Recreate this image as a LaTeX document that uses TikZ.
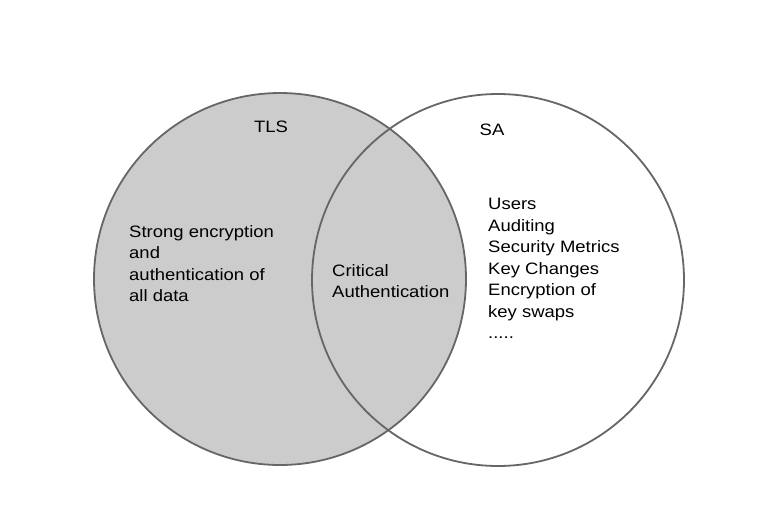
\documentclass[tikz,border=0pt]{standalone}
\usepackage{fontspec}
\setmainfont{Liberation Sans}
\newfontfamily\labelfont[FakeStretch=1.12]{Liberation Sans}
\usepackage{xcolor}
\definecolor{setfill}{RGB}{204,204,204}
\definecolor{setline}{RGB}{102,102,102}
\usetikzlibrary{positioning}

\begin{document}
\begin{tikzpicture}[
  x=1pt, y=-1pt,
  setring/.style={draw=setline, line width=1.8pt, circle, minimum size=372pt, inner sep=0pt},
  label/.style={anchor=north west, align=left, inner sep=0pt, font=\labelfont\fontsize{16.5}{21.5}\selectfont}
]

  % Fix the page to the reference size
  \useasboundingbox[fill=white] (0,0) rectangle (760,520);

  % The two sets
  \node[setring, fill=setfill] (tls) at (280,279) {};
  \node[setring] (sa) at (498,280) {};

  % Set names
  \node[label, anchor=north] (tlsname) at (271,121) {TLS};
  \node[label, anchor=north] (saname) at (492,124) {SA};

  % Contents of each region
  \node[label] (tlsonly) at (129,225) {Strong encryption\\and\\authentication of\\all data};
  \node[label] (both) at (332,264) {Critical\\Authentication};
  \node[label] (saonly) at (488,198) {Users\\Auditing\\Security Metrics\\Key Changes\\Encryption of\\key swaps\\.....};

\end{tikzpicture}
\end{document}
